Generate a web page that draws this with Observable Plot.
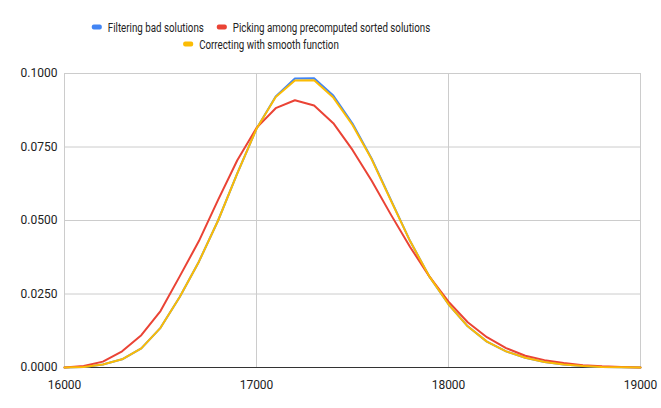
<!DOCTYPE html>
<html>
<head>
<meta charset="utf-8">
<script src="https://cdn.jsdelivr.net/npm/d3@7"></script>
<script src="https://cdn.jsdelivr.net/npm/@observablehq/plot@0.6"></script>
<style>
  html, body { margin: 0; padding: 0; background: #fff; }
  body { width: 661px; height: 408px; overflow: hidden; font-family: Roboto, Arial, sans-serif; }
  #legend { display: block; }
  #chart svg { display: block; }
</style>
</head>
<body>
<svg id="legend" width="661" height="58"></svg>
<div id="chart"></div>
<script>
const xs = [16000,16100,16200,16300,16400,16500,16600,16700,16800,16900,17000,17100,17200,17300,17400,17500,17600,17700,17800,17900,18000,18100,18200,18300,18400,18500,18600,18700,18800,18900,19000];
const filtering = [0,0.0002,0.001,0.0028,0.0065,0.0135,0.0240,0.0360,0.0500,0.0660,0.0812,0.0922,0.0983,0.0984,0.0925,0.0830,0.0710,0.0570,0.0430,0.0310,0.0215,0.0140,0.0088,0.0055,0.0033,0.0019,0.0010,0.0005,0.0002,0.0001,0];
const picking = [0,0.0005,0.0020,0.0055,0.0110,0.0192,0.0310,0.0430,0.0570,0.0705,0.0815,0.0882,0.0909,0.0891,0.0831,0.0740,0.0635,0.0520,0.0410,0.0310,0.0224,0.0154,0.0103,0.0066,0.0040,0.0025,0.0015,0.0008,0.0004,0.0002,0];
const correcting = [0,0.0002,0.001,0.0028,0.0065,0.0135,0.0240,0.0360,0.0500,0.0660,0.0812,0.0920,0.0976,0.0977,0.0918,0.0825,0.0708,0.0568,0.0430,0.0310,0.0215,0.0140,0.0088,0.0055,0.0033,0.0019,0.0010,0.0005,0.0002,0.0001,0];
const seriesNames = ["Filtering bad solutions", "Picking among precomputed sorted solutions", "Correcting with smooth function"];
const seriesColors = ["#4285F4", "#EA4335", "#FBBC04"];
const xTicks = [16000, 17000, 18000, 19000];
const yTicks = [0, 0.025, 0.05, 0.075, 0.1];

const seriesValues = [filtering, picking, correcting];
const data = [];
seriesNames.forEach((name, i) => xs.forEach((x, j) => data.push({series: name, x, y: seriesValues[i][j]})));

// legend (condensed text, two centred rows)
const NS = "http://www.w3.org/2000/svg";
const legend = document.getElementById("legend");
const rows = [[0, 1], [2]];
const rowY = [27, 44];
const centreX = 261, squeeze = 0.78, swW = 10, swGap = 6, itemGap = 13;
rows.forEach((r, ri) => {
  const items = r.map(i => {
    const t = document.createElementNS(NS, "text");
    t.textContent = seriesNames[i];
    t.setAttribute("font-family", "Roboto, Arial, sans-serif");
    t.setAttribute("font-size", "12.5");
    t.setAttribute("fill", "#222");
    t.setAttribute("dominant-baseline", "central");
    t.setAttribute("y", rowY[ri]);
    legend.appendChild(t);
    const w = t.getComputedTextLength() * squeeze;
    t.setAttribute("textLength", w);
    t.setAttribute("lengthAdjust", "spacingAndGlyphs");
    return {i, t, w};
  });
  const total = items.reduce((s, it) => s + swW + swGap + it.w, 0) + itemGap * (items.length - 1);
  let x = centreX - total / 2;
  items.forEach(it => {
    const rect = document.createElementNS(NS, "rect");
    rect.setAttribute("x", x);
    rect.setAttribute("y", rowY[ri] - 2.5);
    rect.setAttribute("width", swW);
    rect.setAttribute("height", 5);
    rect.setAttribute("rx", 2);
    rect.setAttribute("fill", seriesColors[it.i]);
    legend.appendChild(rect);
    it.t.setAttribute("x", x + swW + swGap);
    x += swW + swGap + it.w + itemGap;
  });
});

const chart = Plot.plot({
  width: 661,
  height: 350,
  marginTop: 15,
  marginBottom: 41,
  marginLeft: 64,
  marginRight: 21,
  style: { fontFamily: "Roboto, Arial, sans-serif", fontSize: "12px", color: "#222", background: "#fff" },
  x: { domain: [16000, 19000], ticks: xTicks, tickFormat: d => String(d), label: null, tickSize: 0, tickPadding: 13 },
  y: { domain: [0, 0.1], ticks: yTicks, tickFormat: d3.format(".4f"), label: null, tickSize: 0, tickPadding: 7 },
  color: { domain: seriesNames, range: seriesColors },
  marks: [
    Plot.gridX(xTicks, { stroke: "#ccc", strokeOpacity: 1, strokeWidth: 1 }),
    Plot.gridY(yTicks.filter(d => d > 0), { stroke: "#ccc", strokeOpacity: 1, strokeWidth: 1 }),
    Plot.ruleY([0], { stroke: "#333", strokeWidth: 1.2 }),
    Plot.axisX(xTicks, { tickSize: 0, tickPadding: 13, tickFormat: d => String(d), label: null, fill: "#222" }),
    Plot.axisY(yTicks, { tickSize: 0, tickPadding: 7, tickFormat: d3.format(".4f"), label: null, fill: "#222" }),
    Plot.line(data, { x: "x", y: "y", z: "series", stroke: "series", strokeWidth: 2, strokeLinejoin: "round" })
  ]
});
document.getElementById("chart").appendChild(chart);
</script>
</body>
</html>
